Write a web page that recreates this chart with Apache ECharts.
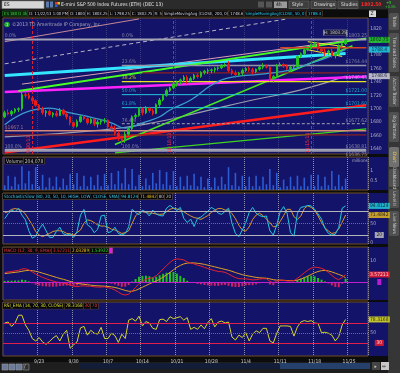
<!DOCTYPE html>
<html><head><meta charset="utf-8">
<script src="https://cdn.jsdelivr.net/npm/echarts@6/dist/echarts.min.js"></script>
<style>html,body{margin:0;padding:0;background:#0c0c0c;}#c{width:400px;height:373px;}</style>
</head><body><div id="c"></div>
<script>
// ---------------- DATA ----------------
const tradingDays = ['9/16','9/17','9/18','9/19','9/20','9/23','9/24','9/25','9/26','9/27',
 '9/30','10/1','10/2','10/3','10/4','10/7','10/8','10/9','10/10','10/11',
 '10/14','10/15','10/16','10/17','10/18','10/21','10/22','10/23','10/24','10/25',
 '10/28','10/29','10/30','10/31','11/1','11/4','11/5','11/6','11/7','11/8',
 '11/11','11/12','11/13','11/14','11/15','11/18','11/19','11/20','11/21','11/22'];
const padDays = ['11/25','11/26','11/27'];
const weekLabels = ['9/16','9/23','9/30','10/7','10/14','10/21','10/28','11/4','11/11','11/18','11/25'];
// half-day candles [open, high, low, close]
const candles = [
 [1688,1697,1686,1694],[1694,1699,1690,1692],[1692,1698,1689,1696],[1696,1701,1693,1699],[1699,1702,1695,1700],
 [1700,1726,1697,1721],[1721,1725,1716,1720],[1720,1724,1714,1716],[1716,1718,1710,1712],[1712,1714,1703,1705],
 [1705,1707,1697,1700],[1700,1703,1691,1694],[1694,1698,1688,1696],[1696,1699,1689,1691],[1691,1695,1687,1693],
 [1693,1697,1688,1690],[1690,1701,1689,1698],[1698,1700,1690,1692],[1692,1694,1684,1688],[1688,1689,1675,1679],
 [1679,1681,1671,1674],[1674,1684,1672,1681],[1681,1690,1679,1688],[1688,1691,1683,1685],[1685,1687,1676,1679],
 [1679,1686,1677,1684],[1684,1685,1674,1677],[1677,1683,1672,1680],[1680,1684,1676,1682],[1682,1686,1678,1683],
 [1683,1684,1670,1673],[1673,1678,1668,1671],[1671,1675,1660,1663],[1663,1667,1652,1655],[1655,1660,1646,1652],
 [1652,1666,1649,1662],[1662,1672,1660,1670],[1670,1690,1668,1688],[1688,1693,1684,1690],[1690,1702,1688,1700],
 [1700,1702,1690,1694],[1694,1704,1692,1701],[1701,1703,1694,1697],[1697,1700,1690,1693],[1693,1708,1692,1706],
 [1706,1716,1703,1713],[1713,1722,1711,1720],[1720,1730,1718,1727],[1727,1733,1725,1731],[1731,1740,1729,1737],
 [1737,1742,1733,1740],[1740,1745,1736,1743],[1743,1750,1740,1747],[1747,1750,1737,1742],[1742,1748,1739,1745],
 [1745,1752,1743,1750],[1750,1753,1745,1748],[1748,1756,1746,1754],[1754,1758,1751,1756],[1756,1760,1752,1757],
 [1757,1760,1753,1758],[1758,1762,1754,1760],[1760,1763,1757,1761],[1761,1767,1759,1765],[1765,1768,1762,1766],
 [1766,1771,1754,1757],[1757,1760,1750,1753],[1753,1757,1746,1751],[1751,1755,1749,1753],[1753,1760,1749,1757],
 [1757,1762,1755,1760],[1760,1763,1755,1758],[1758,1761,1751,1755],[1755,1760,1753,1759],[1759,1764,1757,1762],
 [1762,1768,1759,1764],[1764,1766,1760,1762],[1762,1764,1741,1744],[1744,1750,1739,1748],[1748,1767,1746,1765],
 [1765,1769,1763,1766],[1766,1768,1761,1764],[1764,1766,1758,1760],[1760,1764,1755,1762],[1762,1766,1758,1763],
 [1763,1780,1760,1778],[1778,1784,1776,1782],[1782,1790,1780,1788],[1788,1792,1786,1790],[1790,1797,1788,1795],
 [1795,1800,1793,1797],[1797,1800,1786,1789],[1789,1792,1783,1786],[1786,1790,1779,1784],[1784,1788,1780,1786],
 [1786,1791,1776,1779],[1779,1784,1775,1782],[1782,1796,1780,1794],[1794,1799,1792,1797],[1797,1803.25,1795,1802.75]];
// moving averages read at sample candles [index, value]
const sma50 = [[0,1676],[8,1698],[13,1701],[18,1695],[26,1686],[31,1679],[35,1671],[40,1679],[45,1688],[48,1698],[54,1713],[60,1735],[65,1746],[71,1750],[77,1753],[83,1758],[89,1768],[94,1777],[99,1788.4]];
const sma200 = [[0,1658],[28,1668],[43,1679],[57,1695],[72,1713],[86,1728],[99,1748.6]];
// drawn trend lines [[index, price],[index, price]]
const cyanLine = [[0,1749.5],[99,1782.5]];
const greenUpperLine = [[4,1726.5],[105,1805]];
const magentaLine = [[0,1725],[105,1748]];
const redLine = [[0,1634.5],[105,1705]];
const greenSteepLine = [[32,1646.6],[101,1794]];
const greenLowerLine = [[32,1634],[105,1670]];
const greyDashedLine = [[0,1767],[82,1834]];
const roseUpperLine = [[0,1800],[39,1834]];
const rosePinkLine = [[5,1736.7],[99,1801.8]];
const wedgeUpper = [[88,1800],[99,1792.5]];
const wedgeLower = [[88,1788],[98,1778]];
// fibonacci retracement
const fibPct = ['0.0%','23.6%','38.2%','50.0%','61.8%','76.4%','100.0%'];
const fibPrice = [1803.25,1764.44,1740.43,1721.00,1701.60,1677.62,1638.81];
// other horizontal price levels
const levelPrices = [1753.5,1667.1,1661,1791,1636.75];
const levelLabels = ['','$1667.1','','','$1636.75'];
// option-expiration markers
const opexIndex = [8,49,89];
const opexLabel = ['9/20/13','10/18/13','11/15/13'];
// volume (millions)
const volume = [0.25,0.75,0.2,0.7,0.3,1.25,0.35,1.0,0.3,1.2, 0.2,0.8,0.15,0.65,0.2,0.7,0.15,0.6,0.25,0.85,
 0.3,0.9,0.2,0.75,0.2,0.7,0.25,0.8,0.2,0.85, 0.25,0.9,0.3,1.0,0.35,1.15,0.3,1.1,0.2,0.8,
 0.2,0.6,0.25,0.9,0.35,1.05,0.3,0.95,0.25,1.0, 0.2,0.7,0.2,0.75,0.25,0.85,0.2,0.7,0.15,0.6,
 0.15,0.65,0.2,0.7,0.3,1.2,0.25,0.9,0.2,0.75, 0.2,0.7,0.2,0.75,0.2,0.7,0.3,1.1,0.25,0.9,
 0.15,0.55,0.2,0.7,0.2,0.75,0.2,0.65,0.2,0.8, 0.2,0.8,0.2,0.7,0.25,1.0,0.2,0.8,0.2,0.6];
// stochastic slow
const stochK = [62,75,84,80,89,71,59,31,12,17, 35,48,31,14,14,29,40,23,20,23, 14,29,71,86,46,40,26,35,69,71,
 26,29,40,24,20,24,41,86,78,72, 84,79,69,84,74,70,69,89,96,89, 83,91,63,52,61,42,63,66,74,81,
 91,86,76,73,81,89,50,24,16,33, 52,78,91,76,70,67,69,31,20,46, 80,93,76,26,17,76,91,93,96,95,
 86,74,61,37,24,20,22,39,89,94.81];
const stochD = [77,80,86,88,86,83,74,60,46,29, 20,16,20,24,29,31,31,29,24,23, 20,26,33,50,59,57,52,46,43,43,
 40,35,33,29,24,26,31,50,69,78, 80,78,76,76,74,73,74,80,86,89, 87,84,80,74,69,65,63,60,65,70,
 78,84,88,88,84,84,75,62,45,33, 30,41,60,71,76,70,61,52,41,43, 55,70,86,86,67,60,69,88,95,91,
 84,69,52,39,30,24,26,36,53,71.48];
// MACD
const macdValue = [4.5,4.8,5.0,5.3,5.5,6.2,6.3,5.8,4.8,3.8, 3.0,2.2,1.6,1.0,0.5,0.0,-0.2,-0.5,-0.9,-1.5,
 -2.0,-2.2,-1.9,-1.8,-2.0,-2.0,-2.3,-2.4,-2.4,-2.3, -2.7,-3.1,-3.8,-4.8,-5.8,-6.2,-5.8,-4.2,-2.6,-0.8,
 0.4,1.3,1.8,2.0,3.0,4.5,6.2,7.8,9.3,10.6, 11.0,10.8,10.5,9.6,9.0,8.6,8.0,7.6,7.0,6.4,
 5.9,5.4,5.0,4.9,4.6,3.8,2.9,2.1,1.6,1.5, 1.5,1.3,1.0,1.1,1.4,1.6,1.5,0.3,-0.4,0.4,
 0.8,0.8,0.5,0.5,0.6,1.8,3.0,4.4,5.6,6.6, 7.1,6.9,6.5,5.8,4.6,3.2,1.8,1.1,2.2,3.57];
const macdAvg = [4.0,4.2,4.4,4.6,4.8,5.1,5.4,5.5,5.4,5.1, 4.7,4.2,3.7,3.2,2.7,2.2,1.7,1.3,0.8,0.3,
 -0.2,-0.6,-0.9,-1.1,-1.3,-1.5,-1.7,-1.8,-1.9,-2.0, -2.1,-2.3,-2.6,-3.0,-3.5,-4.0,-4.4,-4.4,-4.0,-3.3,
 -2.5,-1.7,-0.9,-0.2,0.5,1.3,2.3,3.4,4.6,5.8, 7.0,7.9,8.6,9.0,9.1,9.1,8.9,8.7,8.4,8.0,
 7.6,7.2,6.8,6.4,6.0,5.6,5.1,4.5,4.0,3.5, 3.1,2.8,2.5,2.2,2.0,1.9,1.8,1.5,1.1,0.9,
 0.9,0.8,0.7,0.7,0.6,0.9,1.4,2.0,2.8,3.6, 4.4,5.0,5.4,5.5,5.3,4.8,4.2,3.6,3.0,2.03];
const macdDiff = [0.5,0.6,0.6,0.7,0.7,1.1,0.9,0.3,-0.6,-1.3, -1.7,-2.0,-2.1,-2.2,-2.2,-2.2,-1.9,-1.8,-1.7,-1.8,
 -1.8,-1.6,-1.0,-0.7,-0.7,-0.5,-0.6,-0.6,-0.5,-0.3, -0.6,-0.8,-1.2,-1.8,-2.3,-2.2,-1.4,0.2,1.4,2.5,
 2.9,3.0,2.7,2.2,2.5,3.2,3.9,4.4,4.7,4.8, 4.0,2.9,1.9,0.6,-0.1,-0.5,-0.9,-1.1,-1.4,-1.6,
 -1.7,-1.8,-1.8,-1.5,-1.4,-1.8,-2.2,-2.4,-2.4,-2.0, -1.6,-1.5,-1.5,-1.1,-0.6,-0.3,-0.3,-1.2,-1.5,-0.5,
 -0.1,0.0,-0.2,-0.2,0.0,0.9,1.6,2.4,2.8,3.0, 2.7,1.9,1.1,0.3,-0.7,-1.6,-2.4,-2.5,-0.8,1.54];
// RSI EMA
const rsi = [71,73,64,71,87,87,67,56,39,34, 41,32,27,33,40,45,34,48,56,19, 26,32,61,64,46,56,50,48,62,39,
 39,50,45,31,48,39,77,80,75,85, 65,74,71,60,58,78,79,74,84,80, 82,84,77,82,58,62,58,67,59,72,
 80,63,73,75,71,73,42,36,46,41, 51,34,48,55,51,60,60,34,30,50, 65,65,65,64,44,63,73,76,74,76,
 71,70,51,52,50,46,34,43,67,78.32];
// axis tick labels
const priceTicks = [1640,1660,1680,1700,1720,1740,1760,1780,1800,1820];
const volTicks = [0.5,1];
const stochTicks = [0,50];
const macdTicks = [10];
const rsiTicks = [50];

// ---------------- CHART ----------------
const FONT = '"Liberation Sans Narrow","DejaVu Sans Condensed","Liberation Sans",Arial,sans-serif';
const NAVY = '#13136a', BROWN = '#6e4e1c';
const categories = [...tradingDays, ...padDays].flatMap(d => [d + ' a', d + ' b']);
const LAST = categories.length - 1;
const panels = [[18,136],[157,33],[193,51],[247,53],[302,54]];
const yRange = [[1632.4,1835.4],[0,1.737],[-3.1,128],[-8.57,16.67],[3.0,114.3]];

const grid = panels.map(p => ({left:3, width:365, top:p[0], height:p[1], show:true, borderColor:BROWN, borderWidth:1, backgroundColor:'transparent'}));
const xAxis = panels.map((p,k) => ({
  gridIndex:k, type:'category', data:categories, boundaryGap:true,
  axisLine:{show:false}, axisTick:{show:false},
  axisLabel:{show:k===4, interval:(i)=> i%10===0 && i>0 && i<=100, formatter:(v,i)=>weekLabels[i/10],
    color:'#cfcfcf', fontSize:5, fontFamily:FONT, margin:3},
  splitLine:{show:true, interval:(i)=> i%10===0 && i>0, lineStyle:{color:k===0?'#3a3a7c':'#8c8cab', type:'dotted', width:1}}
}));
const yAxis = panels.map((p,k) => ({gridIndex:k, type:'value', min:yRange[k][0], max:yRange[k][1], position:'right',
  axisLabel:{show:false}, axisLine:{show:false}, axisTick:{show:false}, splitLine:{show:false}}));

const series = [];
function seg(pts, color, width, type, z) {
  series.push({type:'line', xAxisIndex:0, yAxisIndex:0, data:pts, symbol:'none', silent:true, z:z||3,
    lineStyle:{color, width, type:type||'solid'}});
}
function ticks(k, vals, color) {
  series.push({type:'scatter', xAxisIndex:k, yAxisIndex:k, data:vals.map(v=>[LAST,v]), symbolSize:0, clip:false, silent:true, z:15,
    label:{show:true, position:'right', distance:4, formatter:(p)=>String(p.value[1]), color:color||'#d4d4d4', fontSize:5, fontFamily:FONT}});
}
function tag(k, v, text, bg, fg, w) {
  series.push({type:'scatter', xAxisIndex:k, yAxisIndex:k, data:[[LAST,v]], symbol:'rect', symbolSize:[w||21,6], symbolOffset:[13,0],
    itemStyle:{color:bg}, clip:false, silent:true, z:20,
    label:{show:true, position:'inside', formatter:text, color:fg, fontSize:5, fontFamily:FONT}});
}
function priceLabel(i, v, text, color, pos) {
  series.push({type:'scatter', xAxisIndex:0, yAxisIndex:0, data:[[i,v]], symbolSize:0, clip:false, silent:true, z:12,
    label:{show:true, position:pos||'top', align:'left', distance:1, formatter:text, color, fontSize:5, fontFamily:FONT}});
}

// trend lines & levels
seg(sma200, '#9c9cae', 1.2); series[series.length-1].smooth = true;
seg(greenLowerLine, '#3ed41e', 1.2);
seg(redLine, '#ff1c1c', 2.5);
seg(greenSteepLine, '#46e622', 1.5);
seg(magentaLine, '#ff22ff', 2.5);
seg(rosePinkLine, '#d8a0b4', 1);
seg(cyanLine, '#34e6ff', 3);
seg(greenUpperLine, '#46ff22', 2);
seg(greyDashedLine, '#b4b4c4', 1, [4,3]);
seg(roseUpperLine, '#c48a94', 1);
seg(wedgeUpper, '#f2e232', 1);
seg(wedgeLower, '#f2e232', 1);
const fibColor = ['#a4a4b4','#9494a6','#e8e022','#22c8da','#22c8da','#a4a4b4','#a4a4b4'];
const fibWidth = [2,1.6,1.2,1,1,1,2];
fibPrice.forEach((p,j) => {
  const full = (j===0 || j===6);
  seg([[full?0:34,p],[LAST,p]], fibColor[j], fibWidth[j], j===5?[3,2]:'solid');
  priceLabel(34, p, fibPct[j], fibColor[j]);
  if (full) priceLabel(0, p, fibPct[j], fibColor[j]);
  priceLabel(99, p, '$' + p.toFixed(2), fibColor[j] === '#e8e022' ? '#d8c8f0' : fibColor[j]);
});
const levelColor = ['#8c2222','#d48a7a','#8c2222','#d44422','#a4a4b4'];
levelPrices.forEach((p,j) => {
  seg([[j===0?40:(j===3?80:0),p],[LAST,p]], levelColor[j], j===4?1.5:1.3);
  if (levelLabels[j]) priceLabel(j===4?99:0, p, levelLabels[j], j===4?'#a4a4b4':'#d48a7a', j===4?'bottom':'top');
});
seg(sma50, '#3a9ccc', 1.3); series[series.length-1].smooth = true;

series.push({type:'candlestick', xAxisIndex:0, yAxisIndex:0, z:6,
  data:candles.map(c=>[c[0],c[3],c[2],c[1]]), barWidth:2,
  itemStyle:{color:'#22c422', color0:'#ec1a1a', borderColor:'#22c422', borderColor0:'#ec1a1a', borderWidth:1},
  markLine:{silent:true, symbol:['none','none'], animation:false,
    lineStyle:{color:'#d8203a', type:[3,2], width:1},
    label:{show:true, position:'insideStartTop', formatter:'{b}', color:'#ff3040', fontSize:5, fontFamily:FONT, distance:1},
    data:opexIndex.map((ix,j)=>({xAxis:ix, name:opexLabel[j]}))}});
// H label
series.push({type:'scatter', xAxisIndex:0, yAxisIndex:0, data:[[96,1803.25]], symbol:'rect', symbolSize:[23,5.5], symbolOffset:[0,-7],
  itemStyle:{color:'#202030', borderColor:'#b8b8c8', borderWidth:0.6}, clip:false, silent:true, z:14,
  label:{show:true, position:'inside', formatter:'H: 1803.25', color:'#e0e0e0', fontSize:4.6, fontFamily:FONT}});

// volume
series.push({type:'bar', xAxisIndex:1, yAxisIndex:1, data:volume, barWidth:1.6, itemStyle:{color:'#2c5cd4'}, silent:true});
// stochastic
series.push({type:'line', xAxisIndex:2, yAxisIndex:2, data:stochD, symbol:'none', lineStyle:{color:'#d8962e', width:1}, silent:true,
  markLine:{silent:true, symbol:['none','none'], label:{show:false}, data:[{yAxis:80},{yAxis:20}], lineStyle:{color:'#b4b4bc', type:'solid', width:1.2}}});
series.push({type:'line', xAxisIndex:2, yAxisIndex:2, data:stochK, symbol:'none', lineStyle:{color:'#22c6dc', width:1}, silent:true,
  markLine:{silent:true, symbol:['none','none'], label:{show:false}, data:[{yAxis:50}], lineStyle:{color:'#6a6a90', type:'dotted', width:1}}});
// MACD
series.push({type:'bar', xAxisIndex:3, yAxisIndex:3, data:macdDiff, barWidth:2, silent:true,
  itemStyle:{color:(p)=> p.value>=0 ? '#22c022' : '#d0206a'}});
series.push({type:'line', xAxisIndex:3, yAxisIndex:3, data:macdAvg, symbol:'none', lineStyle:{color:'#e0a026', width:1}, silent:true,
  markLine:{silent:true, symbol:['none','none'], label:{show:false}, data:[{yAxis:0}], lineStyle:{color:'#c020c8', type:'solid', width:1.2}}});
series.push({type:'line', xAxisIndex:3, yAxisIndex:3, data:macdValue, symbol:'none', lineStyle:{color:'#e8202a', width:1}, silent:true});
// RSI
series.push({type:'line', xAxisIndex:4, yAxisIndex:4, data:rsi, symbol:'none', lineStyle:{color:'#d4d42a', width:1}, silent:true,
  markLine:{silent:true, symbol:['none','none'], label:{show:false}, data:[{yAxis:70},{yAxis:30}], lineStyle:{color:'#e0204a', type:'solid', width:1.2}}});
series.push({type:'line', xAxisIndex:4, yAxisIndex:4, data:[], symbol:'none', silent:true,
  markLine:{silent:true, symbol:['none','none'], label:{show:false}, data:[{yAxis:50}], lineStyle:{color:'#6a6a90', type:'dotted', width:1}}});

// axis tick labels
ticks(0, priceTicks); ticks(1, volTicks); ticks(2, stochTicks); ticks(3, macdTicks); ticks(4, rsiTicks);
// value tags
tag(0, 1802.75, '1802.75', '#22d422', '#0a0a0a');
tag(0, 1788.4, '1788.4', '#22e0f0', '#0a0a0a');
tag(0, 1748.6, '1748.6', '#dcdce4', '#0a0a0a');
tag(2, 94.81, '94.8124', '#22d8e8', '#0a0a0a');
tag(2, 71.48, '71.4842', '#f0c020', '#0a0a0a');
tag(2, 20, '20', '#c8c8c8', '#0a0a0a', 9);
tag(3, 3.57, '3.57211', '#ff1c2a', '#ffffff');
tag(3, 0, '', '#e020e8', '#000', 4);
tag(4, 78.32, '78.3168', '#f0f020', '#0a0a0a');
tag(4, 30, '30', '#ff1c2a', '#ffffff', 9);

// ---------------- FRAME GRAPHICS ----------------
const g = [];
function rect(x,y,w,h,fill,z,stroke,r){ g.push({type:'rect', shape:{x,y,width:w,height:h,r:r||0}, style:{fill, stroke:stroke||null, lineWidth:stroke?0.6:0}, z:z==null?-100:z, silent:true}); }
function txt(x,y,t,color,size,z,extra){ g.push({type:'text', x, y, style:Object.assign({text:t, fill:color, font:(size||5)+'px '+FONT, verticalAlign:'middle', textVerticalAlign:'middle'}, extra||{}), z:z==null?60:z, silent:true}); }
function rich(x,y,segs,size){
  const fs = size||5;
  const r = {}; let s = '';
  segs.forEach((sg,k)=>{ r['s'+k] = {fill:sg[1], color:sg[1], font:fs+'px '+FONT, backgroundColor:sg[2]||'#05050c', borderColor:sg[3]||'#5a4a30', borderWidth:0.6, padding:[0.5,1,0,1]}; s += '{s'+k+'|'+sg[0]+'}'; });
  g.push({type:'text', x, y, style:{text:s, rich:r, font:fs+'px '+FONT, verticalAlign:'middle', textVerticalAlign:'middle'}, z:60, silent:true});
}
panels.forEach(p => rect(2, p[0], 386, p[1], NAVY, -100));
rect(0,0,388,9.5,'#2b2b2b',-90);
rect(388,0,12,373,'#363636',-90);
rect(0,362,388,11,'#1e1e1e',-90);
// toolbar
rect(2,1,42,7.5,'#d6d6d6',-80,'#888');
txt(4,5,'ES','#101010',5);
rect(46,1.5,3,6,'#5a7ab0',-80); rect(50,1.5,3,6,'#5a7ab0',-80);
rect(55,2,2.5,2.5,'#e03030',-80); rect(57.5,2,2.5,2.5,'#e0c030',-80); rect(55,4.5,2.5,2.5,'#3060e0',-80);
txt(61,5,'E-mini S&P 500 Index Futures (ETH) (DEC 13)','#e8e8e8',5);
rect(258,1.5,6,6,'#555',-80); rect(266,1.5,6,6,'#555',-80);
rect(274,1.5,13,6.5,'#9a9a9a',-80); txt(276,5,'4h','#101010',5);
rect(289,1,20,7.5,'#3e3e3e',-80,'#666'); txt(292,5,'Style','#e0e0e0',5);
rect(311,1,25,7.5,'#3e3e3e',-80,'#666'); txt(314,5,'Drawings','#e0e0e0',5);
rect(338,1,20,7.5,'#3e3e3e',-80,'#666'); txt(341,5,'Studies','#e0e0e0',5);
txt(361,5,'1802.50','#ff2a2a',5,60,{font:'bold 5px '+FONT});
txt(386,3,'+5','#30e030',4); txt(385,7,'+0.3%','#30e030',3.5);
// info bar
rich(3,13.5,[['ES 180 D 4h','#40e040','#08200a','#2a8a2a'],['D: 11/22/13 1:00 PM','#d8d8d8'],['O: 1800','#d8d8d8'],['H: 1803.25','#d8d8d8'],['L: 1798.25','#d8d8d8'],['C: 1802.75','#d8d8d8'],['R: 5','#d8d8d8'],['SimpleMovingAvg (CLOSE, 200, 0)','#d8d8d8'],['1748.6','#d8d8d8'],['SimpleMovingAvg(CLOSE, 50, 0)','#30d8f0'],['1788.4','#30d8f0']], 4.2);
rect(369,10.5,7,6.5,'#d8d8d8',-80); txt(370.5,13.8,'Z','#202020',5);
// copyright row
g.push({type:'circle', shape:{cx:7,cy:24.5,r:2.8}, style:{fill:'#22a832'}, z:60, silent:true});
txt(6,24.6,'1','#ffffff',4);
txt(12,24.5,'©2013 TD Ameritrade IP Company, Inc.','#a8a8b8',5);
// panel headers
rich(5,161,[['Volume','#c8c8c8'],['204,078','#c8c8c8']]);
txt(352,161,'millions','#a8a8b8',4.5);
rich(3,196.5,[['StochasticSlow (80, 20, 50, 10, HIGH, LOW, CLOSE, SMA)','#40c8e8'],['94.8124','#30d8f0'],['71.4842','#f0c020'],['80','#c8c8c8'],['20','#c8c8c8']], 4.5);
rich(3,250.5,[['MACD (12, 30, 9, EMA)','#ff3a3a'],['3.57211','#ff3a3a'],['2.03289','#f0c020'],['1.53922','#30e030'],[' ','#e020e8','#e020e8']], 4.6);
rich(3,306,[['RSI_EMA (14, 70, 30, CLOSE)','#e0e030'],['78.3168','#e0e030'],['30','#ff3a3a'],['70','#ff3a3a']], 4.6);
// right tabs
[['Trade',13,30],['Time and Sales',33,72],['Active Trader',76,107],['Big Buttons',112,142],['Chart',147,167],['Dashboard',169,187],['Level II',189,208],['Live News',211,236]].forEach(t=>{
  const hi = t[0]==='Chart';
  rect(389,t[1],10,t[2]-t[1],hi?'#707070':'#505050',-80,null,1.5);
  g.push({type:'text', x:394, y:(t[1]+t[2])/2, rotation:-Math.PI/2, style:{text:t[0], fill:hi?'#f4d040':'#d4d4d4', font:'4.5px '+FONT, align:'center', textAlign:'center', verticalAlign:'middle', textVerticalAlign:'middle'}, z:60, silent:true});
});
// bottom bar
[2,9,16,23].forEach((x,k)=> rect(x,364,6,6,k===3?'#303030':'#6a7a9a',-80,'#999'));
txt(24,367,'/','#dddddd',5);
rect(80,363,290,6,'#131d38',-80);
rect(280,363,90,6,'#26406c',-80);
rect(372,362,8,8,'#444',-80); rect(381,362,8,8,'#c8c8c8',-80);
txt(374.5,366.5,'▸','#cccccc',5); txt(382,366.5,'⇔','#222',5);

const chart = echarts.init(document.getElementById('c'), null, {renderer:'canvas'});
chart.setOption({animation:false, backgroundColor:'transparent', grid, xAxis, yAxis, series, graphic:g});
</script></body></html>
